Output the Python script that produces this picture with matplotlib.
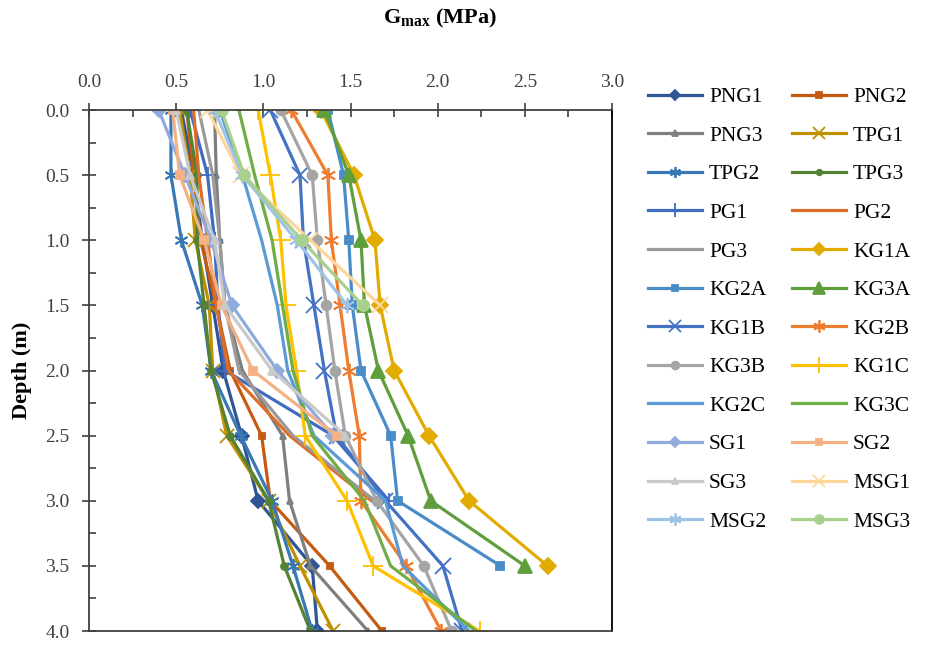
import matplotlib.pyplot as plt
import numpy as np
from matplotlib.ticker import MultipleLocator

plt.rcParams['font.family'] = ['Liberation Serif', 'DejaVu Serif']

# depth points (m)
depth = [0.0, 0.5, 1.0, 1.5, 2.0, 2.5, 3.0, 3.5, 4.0]

# Gmax values (MPa), top to bottom
PNG1 = [0.53, 0.60, 0.65, 0.71, 0.77, 0.875, 0.97, 1.28, 1.31]
PNG2 = [0.56, 0.60, 0.64, 0.73, 0.81, 0.99, 1.04, 1.38, 1.68]
PNG3 = [0.72, 0.73, 0.75, 0.78, 0.88, 1.11, 1.15, 1.27, 1.60]
TPG1 = [0.52, 0.58, 0.61, 0.69, 0.71, 0.79, 1.03, 1.21, 1.40]
TPG2 = [0.47, 0.47, 0.53, 0.65, 0.70, 0.87, 1.05, 1.17, 1.28]
TPG3 = [0.56, 0.62, 0.62, 0.66, 0.70, 0.81, 1.03, 1.12, 1.27]
PG1 = [0.58, 0.68, 0.72, 0.74, 0.78, 1.40, 1.72]
PG2 = [0.60, 0.63, 0.68, 0.73, 0.80, 1.15, 1.62]
PG3 = [0.63, 0.71, 0.75, 0.78, 0.86, 1.17, 1.64]
KG1A = [1.33, 1.52, 1.64, 1.67, 1.75, 1.95, 2.18, 2.63]
KG2A = [1.37, 1.46, 1.49, 1.51, 1.56, 1.73, 1.77, 2.36]
KG3A = [1.35, 1.49, 1.56, 1.58, 1.66, 1.83, 1.96, 2.50]
KG1B = [1.04, 1.21, 1.23, 1.29, 1.35, 1.42, 1.70, 2.03, 2.14]
KG2B = [1.16, 1.37, 1.39, 1.44, 1.49, 1.55, 1.56, 1.82, 2.02]
KG3B = [1.10, 1.28, 1.31, 1.36, 1.41, 1.47, 1.65, 1.92, 2.08]
KG1C = [0.97, 1.04, 1.10, 1.13, 1.19, 1.24, 1.48, 1.63, 2.24]
KG2C = [0.75, 0.88, 0.99, 1.08, 1.14, 1.29, 1.70, 1.80, 2.18]
KG3C = [0.86, 0.95, 1.05, 1.11, 1.17, 1.28, 1.58, 1.73, 2.22]
SG1 = [0.40, 0.55, 0.70, 0.82, 1.08, 1.40]
SG2 = [0.48, 0.52, 0.66, 0.76, 0.94, 1.42]
SG3 = [0.50, 0.58, 0.72, 0.78, 1.05, 1.47]
MSG1 = [0.68, 0.87, 1.27, 1.67]
MSG2 = [0.72, 0.88, 1.19, 1.48]
MSG3 = [0.76, 0.89, 1.22, 1.57]

names = ['PNG1', 'PNG2', 'PNG3', 'TPG1', 'TPG2', 'TPG3', 'PG1', 'PG2', 'PG3',
         'KG1A', 'KG2A', 'KG3A', 'KG1B', 'KG2B', 'KG3B', 'KG1C', 'KG2C', 'KG3C',
         'SG1', 'SG2', 'SG3', 'MSG1', 'MSG2', 'MSG3']
series = [PNG1, PNG2, PNG3, TPG1, TPG2, TPG3, PG1, PG2, PG3,
          KG1A, KG2A, KG3A, KG1B, KG2B, KG3B, KG1C, KG2C, KG3C,
          SG1, SG2, SG3, MSG1, MSG2, MSG3]

colors = ['#2F5597', '#C55A11', '#7F7F7F', '#BF9000', '#3A78B5', '#548235',
          '#3F6BC0', '#DD6E2A', '#9A9A9A', '#E2AB00', '#4A8CC8', '#5E9E3C',
          '#4472C4', '#ED7D31', '#A5A5A5', '#FFC000', '#5B9BD5', '#70AD47',
          '#8FAADC', '#F4B183', '#C9C9C9', '#FFD699', '#9DC3E6', '#A9D18E']
star = (6, 2, 0)
markers = ['D', 's', '^', 'x', star, 'o', '+', None, None,
           'D', 's', '^', 'x', star, 'o', '+', None, None,
           'D', 's', '^', 'x', star, 'o']
msizes = [7, 5, 5, 10, 10, 5, 12, 0, 0,
          8, 6, 10, 11, 11, 7, 14, 0, 0,
          7, 6, 6, 11, 11, 8]

fig = plt.figure(figsize=(9.26, 6.49), dpi=100)
ax = fig.add_axes([0.0961, 0.0277, 0.5649, 0.8028])

lines = []
for name, vals, c, m, ms in zip(names, series, colors, markers, msizes):
    ln, = ax.plot(vals, depth[:len(vals)], color=c, lw=2.3, marker=m, markersize=ms,
                  markeredgewidth=1.3, label=name)
    lines.append(ln)

ax.set_xlim(0, 3.0)
ax.set_ylim(4.0, 0)
ax.xaxis.tick_top()
ax.xaxis.set_major_locator(MultipleLocator(0.5))
ax.xaxis.set_minor_locator(MultipleLocator(0.25))
ax.yaxis.set_major_locator(MultipleLocator(0.5))
ax.yaxis.set_minor_locator(MultipleLocator(0.25))
ax.xaxis.set_major_formatter('{x:.1f}')
ax.yaxis.set_major_formatter('{x:.1f}')
ax.tick_params(which='major', direction='inout', length=10, width=1.2,
               labelsize=14, colors='#404040', pad=9)
ax.tick_params(which='minor', direction='in', length=5, width=1.2, colors='#404040')
ax.tick_params(axis='y', which='both', right=False)
ax.tick_params(axis='x', which='both', bottom=False)
for s in ax.spines.values():
    s.set_linewidth(1.3)
    s.set_color('#404040')
ax.spines['right'].set_color('black')

fig.text(0.475, 0.972, 'G$_{\\mathregular{max}}$ (MPa)', fontsize=16, fontweight='bold',
         ha='center', va='center')
fig.text(0.024, 0.43, 'Depth (m)', fontsize=16, fontweight='bold', rotation=90,
         ha='center', va='center')

# legend filled row by row, two columns
order = list(range(0, 24, 2)) + list(range(1, 24, 2))
fig.legend([lines[i] for i in order], [names[i] for i in order],
           loc='upper left', bbox_to_anchor=(0.6905, 0.879), ncol=2, frameon=False,
           borderaxespad=0, fontsize=15.5, handlelength=2.5, labelspacing=0.86,
           columnspacing=1.2, handletextpad=0.33, markerscale=0.8)

fig.savefig('out.png', dpi=100)
